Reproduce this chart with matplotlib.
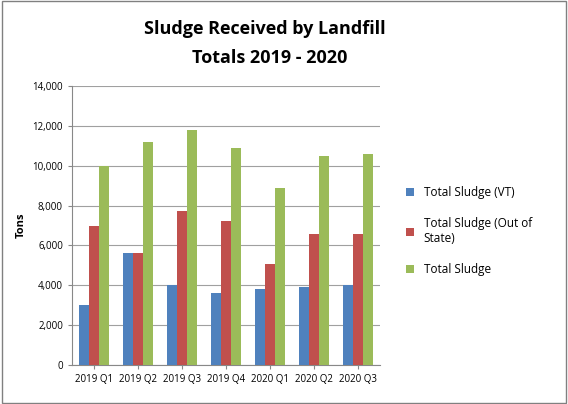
import matplotlib
matplotlib.use("Agg")
import matplotlib.pyplot as plt
import numpy as np
from matplotlib.patches import Rectangle

categories = ["2019 Q1", "2019 Q2", "2019 Q3", "2019 Q4", "2020 Q1", "2020 Q2", "2020 Q3"]
vt = [3000, 5600, 4000, 3600, 3800, 3900, 4000]
out_state = [7000, 5600, 7750, 7250, 5050, 6550, 6550]
total = [10000, 11200, 11800, 10900, 8900, 10500, 10600]
series_names = ["Total Sludge (VT)", "Total Sludge (Out of\nState)", "Total Sludge"]
colors = ["#4F81BD", "#C0504D", "#9BBB59"]

plt.rcParams['font.family'] = ['Open Sans', 'DejaVu Sans']
fig = plt.figure(figsize=(5.68, 4.04), dpi=100)
ax = fig.add_axes([72/568, 1-365/404, 308/568, 279/404])
x = np.arange(len(categories))
w = 0.22
for i, (vals, name, c) in enumerate(zip([vt, out_state, total], series_names, colors)):
    ax.bar(x + (i-1)*w, vals, w, color=c, label=name, zorder=3)
ax.set_ylim(0, 14000)
ax.set_xlim(-0.5, len(categories)-0.5)
ax.set_yticks(range(0, 14001, 2000))
ax.set_yticklabels([f"{v:,}" for v in range(0, 14001, 2000)], fontsize=7)
ax.set_xticks(x)
ax.set_xticklabels(categories, fontsize=7)
ax.yaxis.grid(True, color="#a0a0a0", lw=0.8, zorder=0)
for s in ["top", "right"]:
    ax.spines[s].set_visible(False)
ax.spines["left"].set_color("#888888")
ax.spines["bottom"].set_color("#888888")
ax.tick_params(length=3, color="#888888")
ax.set_ylabel("Tons", fontsize=8, fontweight="bold")
fig.text(0.467, 0.915, "Sludge Received by Landfill", ha="center", fontsize=13, fontweight="bold")
fig.text(0.475, 0.845, "Totals 2019 - 2020", ha="center", fontsize=13, fontweight="bold")
ax.legend(loc="center left", bbox_to_anchor=(1.05, 0.48), frameon=False, fontsize=8.5,
          handlelength=0.7, handleheight=0.7, labelspacing=1.5)
fig.patches.append(Rectangle((0.003, 0.003), 0.994, 0.994, transform=fig.transFigure,
                             fill=False, edgecolor="#808080", lw=1))
fig.savefig("out.png", dpi=100)
